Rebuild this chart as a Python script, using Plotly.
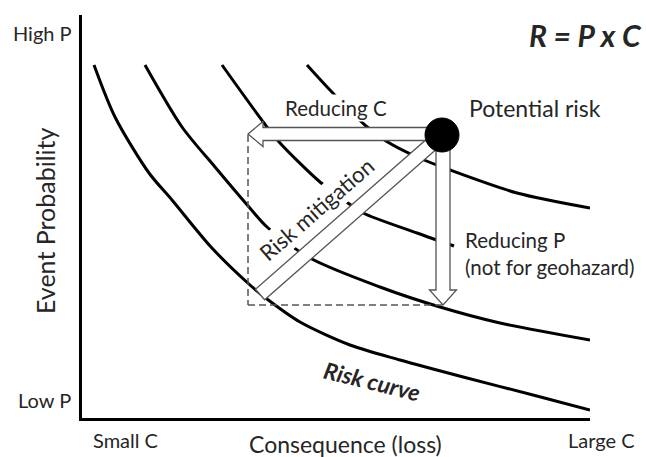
import plotly.graph_objects as go
import numpy as np

# ---- data (consequence / probability in plot units, origin at axis corner) ----
curve_a_c = [12, 33, 67, 90, 129, 168, 185, 218, 268, 318, 385, 451, 508]
curve_a_p = [353, 301, 245, 218, 171, 133, 119, 96, 73, 58, 40, 23, 8]

curve_b_c = [63, 100, 133, 167, 185, 228, 298, 358, 418, 508]
curve_b_p = [353, 291, 251, 211, 191, 160, 131, 111, 95, 78]

curve_c_c = [140, 182, 198, 238, 266, 281, 335, 372]
curve_c_p = [353, 295, 275, 236, 215, 205, 185, 172]

curve_d_c = [225, 247, 284, 304, 335, 368, 435, 508]
curve_d_p = [353, 329, 292, 277, 261, 248, 225, 210]

potential_c, potential_p = 360, 283
mitigated_c, mitigated_p = 166, 113

X_MAX, Y_MAX = 508, 403
FONT = "Lato"
TXT = "#262626"

fig = go.Figure()
for cx, cy in [(curve_a_c, curve_a_p), (curve_b_c, curve_b_p),
               (curve_c_c, curve_c_p), (curve_d_c, curve_d_p)]:
    fig.add_trace(go.Scatter(x=cx, y=cy, mode="lines",
                             line=dict(color="black", width=3, shape="spline", smoothing=0.8),
                             hoverinfo="skip", showlegend=False))


def arrow_path(x0, y0, x1, y1, shaft_hw, head_hw, head_len):
    u = np.array([x1 - x0, y1 - y0], float)
    u /= np.linalg.norm(u)
    n = np.array([-u[1], u[0]])
    s = np.array([x0, y0], float)
    t = np.array([x1, y1], float)
    neck = t - u * head_len
    pts = [s + n * shaft_hw, neck + n * shaft_hw, neck + n * head_hw, t,
           neck - n * head_hw, neck - n * shaft_hw, s - n * shaft_hw]
    return "M " + " L ".join(f"{p[0]:.2f},{p[1]:.2f}" for p in pts) + " Z"


def bar_path(x0, y0, x1, y1, hw):
    u = np.array([x1 - x0, y1 - y0], float)
    u /= np.linalg.norm(u)
    n = np.array([-u[1], u[0]])
    s = np.array([x0, y0], float)
    t = np.array([x1, y1], float)
    pts = [s + n * hw, t + n * hw, t - n * hw, s - n * hw]
    return "M " + " L ".join(f"{p[0]:.2f},{p[1]:.2f}" for p in pts) + " Z"


dash_line = dict(color="#555555", width=1.5, dash="7px,4px")
outline = dict(color="#555555", width=1.3)
shapes = [
    dict(type="line", x0=mitigated_c, y0=potential_p, x1=mitigated_c, y1=mitigated_p, line=dash_line, layer="above"),
    dict(type="line", x0=mitigated_c, y0=mitigated_p, x1=potential_c, y1=mitigated_p, line=dash_line, layer="above"),
]
# diagonal "risk mitigation" bar, stops short of the mitigated point
d = np.array([mitigated_c - potential_c, mitigated_p - potential_p], float)
L = np.linalg.norm(d)
end = np.array([potential_c, potential_p]) + d / L * (L - 16)
shapes.append(dict(type="path", path=bar_path(potential_c, potential_p, end[0], end[1], 7),
                   fillcolor="white", line=outline, layer="above"))
shapes.append(dict(type="path", path=arrow_path(potential_c, potential_p + 1, mitigated_c, potential_p + 1, 6.5, 12.5, 15),
                   fillcolor="white", line=outline, layer="above"))
shapes.append(dict(type="path", path=arrow_path(potential_c + 1, potential_p, potential_c + 1, mitigated_p, 7, 13.5, 15),
                   fillcolor="white", line=outline, layer="above"))
shapes.append(dict(type="circle", x0=potential_c - 17, x1=potential_c + 17,
                   y0=potential_p - 17, y1=potential_p + 17,
                   fillcolor="black", line=dict(color="black", width=1), layer="above"))


def ann(x, y, text, size=16, angle=0, bold=False, italic=False, xanchor="center", bg=None, align="center"):
    t = text
    if bold:
        t = f"<b>{t}</b>"
    if italic:
        t = f"<i>{t}</i>"
    a = dict(x=x / X_MAX, y=y / Y_MAX, xref="paper", yref="paper", text=t, showarrow=False,
             textangle=angle, font=dict(family=FONT, size=size, color=TXT),
             xanchor=xanchor, yanchor="middle", align=align)
    if bg:
        a["bgcolor"] = bg
    return a


annotations = [
    ann(-40, 385, "High P", 20),
    ann(-38, 18, "Low P", 20),
    ann(43, -22, "Small C", 20),
    ann(519, -22, "Large C", 20),
    ann(263, -26, "Consequence (loss)", 23),
    ann(-37, 197, "Event Probability", 25, angle=-90),
    ann(503, 383, "R = P x C", 30, bold=True, italic=True),
    ann(254, 310, "Reducing C", 20.5, bg="white"),
    ann(453, 310, "Potential risk", 23),
    ann(381, 165, "Reducing P<br>(not for geohazard)", 20.5, xanchor="left", bg="white", align="left"),
    ann(234, 209, "Risk mitigation", 22, angle=-41, bg="white"),
    ann(290, 37, "Risk curve", 23, angle=14, bold=True, italic=True),
]

axis_common = dict(showgrid=False, zeroline=False, showticklabels=False, ticks="",
                   showline=True, linecolor="black", linewidth=3, automargin=False,
                   fixedrange=True)

fig.update_layout(
    width=646, height=457,
    margin=dict(l=82, r=56, t=15, b=39, pad=0),
    plot_bgcolor="white", paper_bgcolor="white",
    xaxis=dict(range=[0, X_MAX], **axis_common),
    yaxis=dict(range=[0, Y_MAX], **axis_common),
    shapes=shapes, annotations=annotations, showlegend=False,
)

fig.write_html("out.html", config={"displayModeBar": False},
               post_script="document.body.style.margin='0';")
